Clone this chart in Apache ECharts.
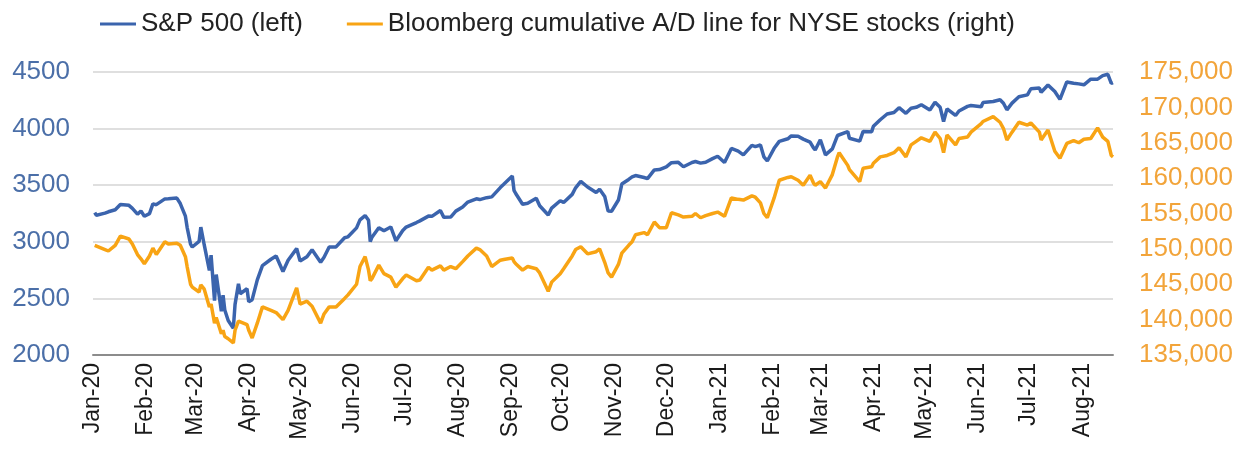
<!DOCTYPE html>
<html>
<head>
<meta charset="utf-8">
<title>S&amp;P 500 vs NYSE A/D line</title>
<script src="https://cdn.jsdelivr.net/npm/echarts@6/dist/echarts.min.js"></script>
<style>
  html, body { margin: 0; padding: 0; background: #fff; }
  #chart { width: 1244px; height: 461px; }
</style>
</head>
<body>
<div id="chart"></div>
<script>
// sample dates (trading days)
const dates = [
  "2020-01-02","2020-01-03","2020-01-08","2020-01-10","2020-01-14","2020-01-17","2020-01-22","2020-01-24","2020-01-27","2020-01-29","2020-01-31",
  "2020-02-03","2020-02-05","2020-02-07","2020-02-12","2020-02-14","2020-02-19","2020-02-21","2020-02-24","2020-02-25","2020-02-27","2020-02-28",
  "2020-03-03","2020-03-04","2020-03-06","2020-03-09","2020-03-10","2020-03-12","2020-03-13","2020-03-16","2020-03-17","2020-03-18","2020-03-20","2020-03-23","2020-03-24","2020-03-26","2020-03-27","2020-03-31",
  "2020-04-01","2020-04-03","2020-04-06","2020-04-09","2020-04-14","2020-04-17","2020-04-21","2020-04-24","2020-04-29",
  "2020-05-01","2020-05-05","2020-05-08","2020-05-13","2020-05-15","2020-05-18","2020-05-22","2020-05-27","2020-05-29",
  "2020-06-03","2020-06-05","2020-06-08","2020-06-10","2020-06-11","2020-06-12","2020-06-16","2020-06-19","2020-06-23","2020-06-26","2020-06-30",
  "2020-07-02","2020-07-08","2020-07-10","2020-07-15","2020-07-17","2020-07-22","2020-07-24","2020-07-28","2020-07-31",
  "2020-08-04","2020-08-07","2020-08-12","2020-08-14","2020-08-18","2020-08-21","2020-08-26","2020-08-28",
  "2020-09-02","2020-09-03","2020-09-04","2020-09-08","2020-09-11","2020-09-16","2020-09-18","2020-09-23","2020-09-25","2020-09-30",
  "2020-10-02","2020-10-07","2020-10-09","2020-10-12","2020-10-16","2020-10-21","2020-10-23","2020-10-26","2020-10-28","2020-10-30",
  "2020-11-03","2020-11-05","2020-11-09","2020-11-11","2020-11-13","2020-11-18","2020-11-20","2020-11-24","2020-11-27",
  "2020-12-01","2020-12-04","2020-12-08","2020-12-11","2020-12-16","2020-12-18","2020-12-21","2020-12-24","2020-12-28","2020-12-31",
  "2021-01-04","2021-01-08","2021-01-12","2021-01-15","2021-01-20","2021-01-22","2021-01-25","2021-01-27","2021-01-29",
  "2021-02-02","2021-02-05","2021-02-10","2021-02-12","2021-02-16","2021-02-19","2021-02-23","2021-02-25","2021-02-26",
  "2021-03-01","2021-03-04","2021-03-08","2021-03-11","2021-03-12","2021-03-17","2021-03-18","2021-03-19","2021-03-24","2021-03-26","2021-03-31",
  "2021-04-01","2021-04-05","2021-04-09","2021-04-13","2021-04-16","2021-04-20","2021-04-23","2021-04-26","2021-04-29",
  "2021-05-04","2021-05-07","2021-05-10","2021-05-12","2021-05-14","2021-05-19","2021-05-21","2021-05-26","2021-05-28",
  "2021-06-03","2021-06-04","2021-06-10","2021-06-14","2021-06-16","2021-06-18","2021-06-21","2021-06-25","2021-06-30",
  "2021-07-02","2021-07-07","2021-07-08","2021-07-12","2021-07-16","2021-07-19","2021-07-23","2021-07-27","2021-07-30",
  "2021-08-02","2021-08-06","2021-08-10","2021-08-13","2021-08-16","2021-08-18","2021-08-19"
];

// S&P 500 close (left axis)
const spx = [
  3258,3235,3253,3265,3283,3330,3322,3295,3244,3273,3226,
  3249,3335,3328,3379,3380,3386,3338,3226,3128,2979,2954,
  3003,3130,2972,2747,2882,2481,2711,2386,2529,2398,2305,2237,2447,2630,2541,2585,
  2471,2489,2664,2790,2846,2875,2737,2837,2940,
  2831,2868,2930,2820,2864,2954,2955,3036,3044,
  3123,3194,3232,3190,3002,3041,3125,3098,3131,3009,3100,
  3130,3170,3185,3227,3225,3276,3216,3218,3271,
  3307,3351,3380,3373,3390,3397,3479,3508,
  3581,3455,3427,3332,3341,3385,3319,3237,3298,3363,
  3348,3419,3477,3534,3484,3436,3465,3401,3271,3270,
  3369,3510,3551,3573,3585,3568,3558,3635,3638,
  3662,3699,3702,3663,3701,3709,3695,3703,3735,3756,
  3701,3825,3801,3768,3852,3841,3855,3751,3714,
  3826,3887,3910,3935,3933,3907,3881,3829,3811,
  3902,3768,3821,3939,3943,3974,3915,3913,3889,3975,3973,
  4020,4078,4129,4142,4185,4135,4180,4188,4211,
  4165,4233,4188,4063,4174,4116,4156,4196,4204,
  4193,4230,4239,4255,4224,4166,4225,4281,4298,
  4352,4358,4321,4385,4327,4258,4412,4401,4395,
  4387,4437,4437,4468,4480,4400,4406
];

// Bloomberg cumulative A/D line, NYSE (right axis)
const adLine = [
  150500,150300,149900,149700,150500,151800,151400,150700,149200,148600,147900,
  149000,150100,149200,151000,150700,150800,150500,148900,147500,145000,144600,
  143900,144900,144300,141800,142200,139500,140300,138000,138500,137600,137300,136700,138500,139800,140000,139300,
  138500,137400,139500,141800,141300,141000,140000,141300,144500,
  142200,142600,141900,139500,140800,141800,141800,143000,143500,
  145000,147500,148900,147000,145500,145800,147700,146500,146000,144600,145800,
  146300,145500,145600,147400,147000,147600,147000,147500,147200,
  148200,149000,150100,149900,149000,147500,148400,148500,
  148700,148200,147900,147000,147500,147200,146600,144000,145300,146500,
  147200,149000,149900,150300,149300,149600,150000,148100,146600,146000,
  147800,149400,150500,151000,152000,152300,152000,153800,153000,
  153000,155100,154800,154500,154600,155000,154400,154700,155000,155200,
  154600,157200,157000,156900,157500,157300,156500,155000,154400,
  157200,159700,160100,160200,159700,159000,160400,159300,159000,
  159500,158600,160500,163000,163600,161800,161200,161400,159500,161400,161600,
  162100,163000,163200,163600,164300,163000,164700,165200,165700,
  165200,166500,165600,163600,166100,164700,165600,165800,166500,
  167700,168000,168700,167900,167000,165400,166500,167900,167500,
  167800,166500,165400,166800,163800,162800,164900,165300,165000,
  165500,165600,167100,165800,165200,163200,163000
];

const monthNames = ["Jan","Feb","Mar","Apr","May","Jun","Jul","Aug","Sep","Oct","Nov","Dec"];

function monthLabel(value) {
  const d = new Date(value);
  if (d.getDate() !== 1) return "";
  return monthNames[d.getMonth()] + "-" + String(d.getFullYear()).slice(2);
}

function withCommas(v) {
  return String(v).replace(/\B(?=(\d{3})+(?!\d))/g, ",");
}

const chart = echarts.init(document.getElementById("chart"), null, { renderer: "canvas" });

var option = {
  animation: false,
  backgroundColor: "#ffffff",
  textStyle: { fontFamily: "Liberation Sans, Arial, sans-serif" },
  legend: {
    left: 95,
    top: 6,
    itemGap: 44,
    itemWidth: 36,
    itemHeight: 3,
    icon: "rect",
    textStyle: { fontSize: 26, color: "#222222", fontFamily: "Liberation Sans, Arial, sans-serif" },
    data: ["S&P 500 (left)", "Bloomberg cumulative A/D line for NYSE stocks (right)"]
  },
  grid: { left: 93, right: 131, top: 72, bottom: 106 },
  xAxis: {
    type: "time",
    min: "2020-01-01",
    max: "2021-08-19",
    splitNumber: 20,
    axisLine: { lineStyle: { color: "#8c8c8c", width: 2 } },
    axisTick: { show: false },
    splitLine: { show: false },
    axisLabel: {
      rotate: 90,
      fontSize: 23,
      color: "#1a1a1a",
      margin: 8,
      formatter: monthLabel
    }
  },
  yAxis: [
    {
      type: "value",
      min: 2000,
      max: 4500,
      interval: 500,
      position: "left",
      axisLine: { show: false },
      axisTick: { show: false },
      axisLabel: { fontSize: 26, color: "#4b6fa8", margin: 23, formatter: (v) => String(v) },
      splitLine: { lineStyle: { color: "#d4d4d4", width: 1.5 } }
    },
    {
      type: "value",
      min: 135000,
      max: 175000,
      interval: 5000,
      position: "right",
      axisLine: { show: false },
      axisTick: { show: false },
      axisLabel: { fontSize: 26, color: "#f2a43a", margin: 26, formatter: withCommas },
      splitLine: { show: false }
    }
  ],
  series: [
    {
      name: "S&P 500 (left)",
      type: "line",
      yAxisIndex: 0,
      symbol: "none",
      itemStyle: { color: "#3b64ad" },
      lineStyle: { color: "#3b64ad", width: 3.5 },
      data: dates.map((d, i) => [d, spx[i]])
    },
    {
      name: "Bloomberg cumulative A/D line for NYSE stocks (right)",
      type: "line",
      yAxisIndex: 1,
      symbol: "none",
      itemStyle: { color: "#f8a414" },
      lineStyle: { color: "#f8a414", width: 3.5 },
      data: dates.map((d, i) => [d, adLine[i]])
    }
  ]
};

chart.setOption(option);
</script>
</body>
</html>
